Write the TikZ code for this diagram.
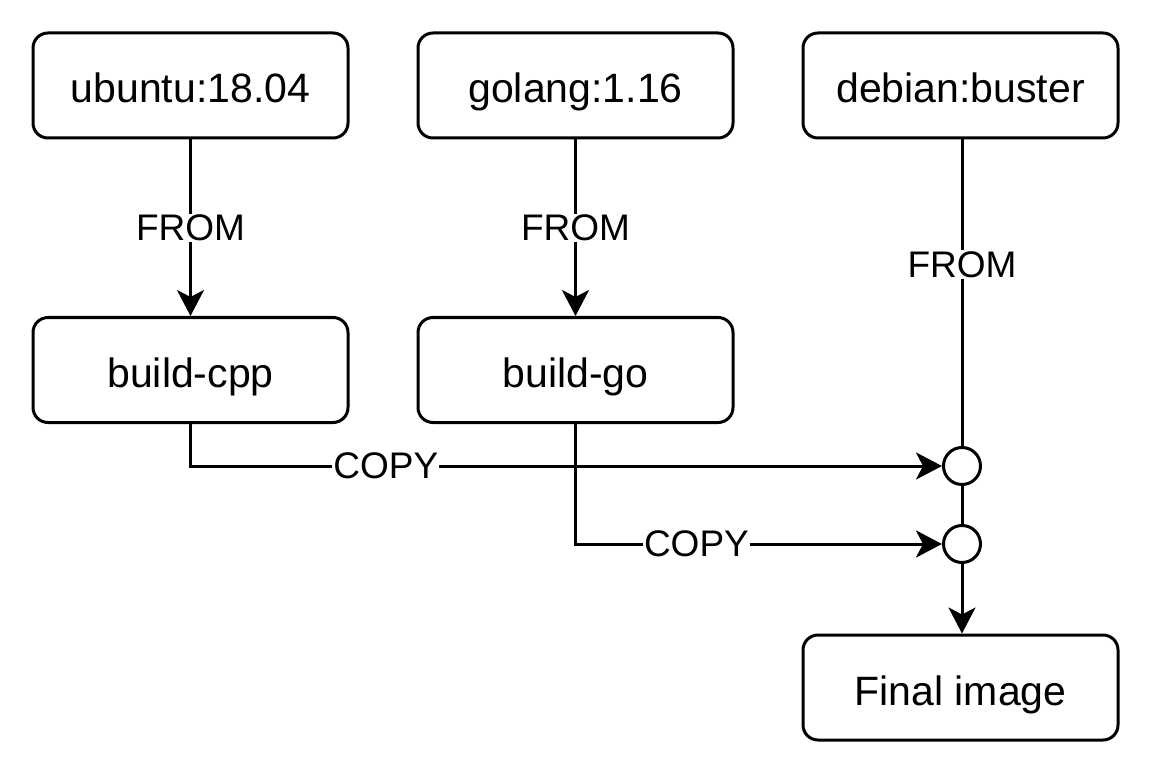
\documentclass[tikz,border=0pt]{standalone}
\usepackage{fontspec}
\setmainfont{Liberation Sans}
\usetikzlibrary{arrows.meta}
\begin{document}
\begin{tikzpicture}[x=1pt,y=-1pt,
  box/.style={draw,line width=3pt,rounded corners=15pt,minimum width=315pt,minimum height=105pt,font=\fontsize{41}{48}\selectfont,inner sep=0pt,text height=35pt,text depth=0pt},
  junc/.style={draw,line width=3pt,circle,minimum size=37pt,inner sep=0pt,fill=white},
  conn/.style={line width=3pt},
  arr/.style={conn,-{Stealth[length=26pt,width=27pt,inset=7pt]}},
  lbl/.style={fill=white,font=\fontsize{37}{44}\selectfont,inner sep=1pt}]
\useasboundingbox (0,0) rectangle (1152,778);
\node[box] (ubuntu) at (190.5,85.5) {ubuntu:18.04};
\node[box] (golang) at (575.5,85.5) {golang:1.16};
\node[box] (debian) at (960.5,85.5) {debian:buster};
\node[box] (cpp) at (190.5,370) {build-cpp};
\node[box] (go) at (575.5,370) {build-go};
\node[box] (final) at (960.5,687.5) {Final image};
\node[junc] (j1) at (962,466) {};
\node[junc] (j2) at (962,544) {};
\draw[arr] (ubuntu) -- node[lbl,pos=0.5]{FROM} (cpp);
\draw[arr] (golang) -- node[lbl,pos=0.5]{FROM} (go);
\draw[conn] (debian.south -| j1) -- node[lbl,pos=0.408]{FROM} (j1.north);
\draw[arr] (cpp.south) |- node[lbl,pos=0.63]{COPY} (j1.west);
\draw[arr] (go.south) |- node[lbl,pos=0.665]{COPY} (j2.west);
\draw[conn] (j1) -- (j2);
\draw[arr] (j2.south) -- (final.north -| j2);
\end{tikzpicture}
\end{document}
